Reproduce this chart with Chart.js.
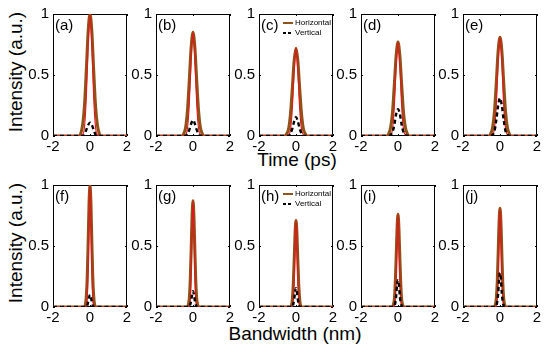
<!DOCTYPE html>
<html>
<head>
<meta charset="utf-8">
<script src="https://cdn.jsdelivr.net/npm/chart.js@4.4.0/dist/chart.umd.min.js"></script>
<style>
body { margin: 0; background: #fff; }
#fig { position: relative; width: 550px; height: 353px; overflow: hidden; font-family: "Liberation Sans", Arial, sans-serif; }
#fig canvas { position: absolute; }
.lbl { position: absolute; font-size: 19px; line-height: 19px; white-space: nowrap; color: #000; }
</style>
</head>
<body>
<div id="fig">
  <div class="lbl" style="left:15px; top:72px; transform: translate(-50%,-50%) rotate(-90deg);">Intensity (a.u.)</div>
  <div class="lbl" style="left:15px; top:243px; transform: translate(-50%,-50%) rotate(-90deg);">Intensity (a.u.)</div>
  <div class="lbl" style="left:297px; top:150px; transform: translateX(-50%);">Time (ps)</div>
  <div class="lbl" style="left:295px; top:324px; transform: translateX(-50%);">Bandwidth (nm)</div>
</div>
<script>
// x sample points (top row in ps, bottom row in nm)
const timeGrid = [-2, -0.6, -0.5, -0.4, -0.3, -0.2, -0.1, 0, 0.1, 0.2, 0.3, 0.4, 0.5, 0.6, 2];
const bandGrid = [-2, -0.3, -0.25, -0.2, -0.15, -0.1, -0.05, 0, 0.05, 0.1, 0.15, 0.2, 0.25, 0.3, 2];

// top row: time domain
const horizA = [0, 0, 0.02, 0.09, 0.25, 0.54, 0.86, 1.00, 0.86, 0.54, 0.25, 0.09, 0.02, 0, 0];
const redA   = [0, 0, 0, 0.01, 0.07, 0.31, 0.74, 1.00, 0.74, 0.31, 0.07, 0.01, 0, 0, 0];
const vertA  = [0, 0, 0, 0, 0.01, 0.05, 0.09, 0.11, 0.09, 0.05, 0.01, 0, 0, 0, 0];

const horizB = [0, 0, 0.02, 0.07, 0.21, 0.46, 0.73, 0.85, 0.73, 0.46, 0.21, 0.07, 0.02, 0, 0];
const redB   = [0, 0, 0, 0.01, 0.06, 0.26, 0.63, 0.85, 0.63, 0.26, 0.06, 0.01, 0, 0, 0];
const vertB  = [0, 0, 0, 0, 0.02, 0.05, 0.10, 0.13, 0.10, 0.05, 0.02, 0, 0, 0, 0];

const horizC = [0, 0, 0.02, 0.06, 0.18, 0.39, 0.62, 0.72, 0.62, 0.39, 0.18, 0.06, 0.02, 0, 0];
const redC   = [0, 0, 0, 0.01, 0.05, 0.22, 0.53, 0.72, 0.53, 0.22, 0.05, 0.01, 0, 0, 0];
const vertC  = [0, 0, 0, 0, 0.02, 0.06, 0.12, 0.155, 0.12, 0.06, 0.02, 0, 0, 0, 0];

const horizD = [0, 0, 0.02, 0.07, 0.19, 0.42, 0.66, 0.77, 0.66, 0.42, 0.19, 0.07, 0.02, 0, 0];
const redD   = [0, 0, 0, 0.01, 0.05, 0.24, 0.57, 0.77, 0.57, 0.24, 0.05, 0.01, 0, 0, 0];
const vertD  = [0, 0, 0, 0.01, 0.03, 0.09, 0.18, 0.22, 0.18, 0.09, 0.03, 0.01, 0, 0, 0];

const horizE = [0, 0, 0.02, 0.07, 0.20, 0.44, 0.70, 0.81, 0.70, 0.44, 0.20, 0.07, 0.02, 0, 0];
const redE   = [0, 0, 0, 0.01, 0.06, 0.25, 0.60, 0.81, 0.60, 0.25, 0.06, 0.01, 0, 0, 0];
const vertE  = [0, 0, 0, 0.01, 0.04, 0.13, 0.25, 0.31, 0.25, 0.13, 0.04, 0.01, 0, 0, 0];

// bottom row: spectral domain
const horizF = [0, 0, 0.02, 0.09, 0.25, 0.54, 0.86, 1.00, 0.86, 0.54, 0.25, 0.09, 0.02, 0, 0];
const redF   = [0, 0, 0, 0.01, 0.07, 0.31, 0.74, 1.00, 0.74, 0.31, 0.07, 0.01, 0, 0, 0];
const vertF  = [0, 0, 0, 0, 0.01, 0.04, 0.08, 0.10, 0.08, 0.04, 0.01, 0, 0, 0, 0];

const horizG = [0, 0, 0.02, 0.07, 0.22, 0.47, 0.75, 0.87, 0.75, 0.47, 0.22, 0.07, 0.02, 0, 0];
const redG   = [0, 0, 0, 0.01, 0.06, 0.27, 0.64, 0.87, 0.64, 0.27, 0.06, 0.01, 0, 0, 0];
const vertG  = [0, 0, 0, 0, 0.02, 0.05, 0.10, 0.13, 0.10, 0.05, 0.02, 0, 0, 0, 0];

const horizH = [0, 0, 0.01, 0.06, 0.18, 0.38, 0.61, 0.71, 0.61, 0.38, 0.18, 0.06, 0.01, 0, 0];
const redH   = [0, 0, 0, 0.01, 0.05, 0.22, 0.53, 0.71, 0.53, 0.22, 0.05, 0.01, 0, 0, 0];
const vertH  = [0, 0, 0, 0, 0.02, 0.06, 0.12, 0.155, 0.12, 0.06, 0.02, 0, 0, 0, 0];

const horizI = [0, 0, 0.02, 0.06, 0.19, 0.41, 0.65, 0.76, 0.65, 0.41, 0.19, 0.06, 0.02, 0, 0];
const redI   = [0, 0, 0, 0.01, 0.05, 0.24, 0.56, 0.76, 0.56, 0.24, 0.05, 0.01, 0, 0, 0];
const vertI  = [0, 0, 0, 0.01, 0.03, 0.09, 0.18, 0.22, 0.18, 0.09, 0.03, 0.01, 0, 0, 0];

const horizJ = [0, 0, 0.02, 0.07, 0.20, 0.44, 0.70, 0.81, 0.70, 0.44, 0.20, 0.07, 0.02, 0, 0];
const redJ   = [0, 0, 0, 0.01, 0.06, 0.25, 0.60, 0.81, 0.60, 0.25, 0.06, 0.01, 0, 0, 0];
const vertJ  = [0, 0, 0, 0.01, 0.04, 0.11, 0.22, 0.28, 0.22, 0.11, 0.04, 0.01, 0, 0, 0];

const xTicks = [-2, 0, 2];
const yTicks = [0, 0.5, 1];

const panels = [
    { tag: '(a)', x: timeGrid, h: horizA, r: redA, v: vertA },
    { tag: '(b)', x: timeGrid, h: horizB, r: redB, v: vertB },
    { tag: '(c)', x: timeGrid, h: horizC, r: redC, v: vertC, legend: true },
    { tag: '(d)', x: timeGrid, h: horizD, r: redD, v: vertD },
    { tag: '(e)', x: timeGrid, h: horizE, r: redE, v: vertE },
    { tag: '(f)', x: bandGrid, h: horizF, r: redF, v: vertF },
    { tag: '(g)', x: bandGrid, h: horizG, r: redG, v: vertG },
    { tag: '(h)', x: bandGrid, h: horizH, r: redH, v: vertH, legend: true },
    { tag: '(i)', x: bandGrid, h: horizI, r: redI, v: vertI },
    { tag: '(j)', x: bandGrid, h: horizJ, r: redJ, v: vertJ },
];

// plot-area placement (left of each column, top of each row)
const colLeft = [53, 156, 259, 361, 463];
const rowTop = [13, 184];
const PW = 74, PH = 123;
const PAD_L = 36, PAD_T = 12, PAD_R = 10, PAD_B = 22;

const BROWN = '#8f5318';
const RED = '#e3161b';
const FONT = "'Liberation Sans', Arial, sans-serif";

Chart.defaults.font.family = FONT;
Chart.defaults.color = '#000';

function pts(xs, ys) {
    return xs.map((x, i) => ({ x: x, y: ys[i] }));
}

// box + inward ticks, drawn under the curves like matlab does
const framePlugin = {
    id: 'frame',
    beforeDatasetsDraw(chart) {
        const { ctx, chartArea: a, scales } = chart;
        ctx.save();
        ctx.strokeStyle = '#000';
        ctx.lineWidth = 1;
        ctx.strokeRect(a.left + 0.5, a.top + 0.5, a.width - 1, a.height - 1);
        ctx.beginPath();
        xTicks.forEach(v => {
            const px = Math.round(scales.x.getPixelForValue(v)) + 0.5;
            ctx.moveTo(px, a.bottom); ctx.lineTo(px, a.bottom - 2);
            ctx.moveTo(px, a.top); ctx.lineTo(px, a.top + 2);
        });
        yTicks.forEach(v => {
            const py = Math.round(scales.y.getPixelForValue(v)) + 0.5;
            ctx.moveTo(a.left, py); ctx.lineTo(a.left + 2, py);
            ctx.moveTo(a.right, py); ctx.lineTo(a.right - 2, py);
        });
        ctx.stroke();
        ctx.restore();
    },
    afterDraw(chart, args, opts) {
        const { ctx, chartArea: a } = chart;
        ctx.save();
        ctx.fillStyle = '#000';
        ctx.font = '15px ' + FONT;
        ctx.textBaseline = 'top';
        ctx.fillText(opts.tag, a.left + 2, a.top + 4);
        if (opts.legend) {
            const ds = chart.data.datasets;
            const items = ['Horizontal', 'Vertical'].map(n => ds.find(d => d.label === n));
            ctx.font = '8px ' + FONT;
            ctx.textBaseline = 'middle';
            items.forEach((d, i) => {
                const y = a.top + 9 + i * 10;
                ctx.beginPath();
                ctx.strokeStyle = d.borderColor;
                ctx.lineWidth = 2;
                ctx.setLineDash(d.borderDash ? [3, 2] : []);
                ctx.moveTo(a.left + 24, y);
                ctx.lineTo(a.left + 34, y);
                ctx.stroke();
                ctx.setLineDash([]);
                ctx.fillText(d.label, a.left + 36, y);
            });
        }
        ctx.restore();
    }
};

const fig = document.getElementById('fig');

panels.forEach((p, i) => {
    const col = i % 5, row = Math.floor(i / 5);
    const canvas_el = document.createElement('canvas');
    canvas_el.width = PAD_L + PW + PAD_R;
    canvas_el.height = PAD_T + PH + PAD_B;
    canvas_el.style.left = (colLeft[col] - PAD_L) + 'px';
    canvas_el.style.top = (rowTop[row] - PAD_T) + 'px';
    fig.appendChild(canvas_el);

    new Chart(canvas_el, {
        type: 'line',
        data: {
            datasets: [
                { label: 'Vertical', data: pts(p.x, p.v), borderColor: '#000', borderWidth: 2.4, borderDash: [4, 3] },
                { label: '', data: pts(p.x, p.r), borderColor: RED, borderWidth: 1.1 },
                { label: 'Horizontal', data: pts(p.x, p.h), borderColor: BROWN, borderWidth: 3 }
            ]
        },
        options: {
            responsive: false,
            animation: false,
            devicePixelRatio: 1,
            events: [],
            layout: { padding: { left: 0, top: PAD_T, right: PAD_R, bottom: 0 } },
            elements: {
                point: { radius: 0 },
                line: { cubicInterpolationMode: 'monotone', fill: false }
            },
            scales: {
                x: {
                    type: 'linear', min: -2, max: 2,
                    ticks: { stepSize: 2, font: { size: 15 }, padding: 2, maxRotation: 0, autoSkip: false },
                    grid: { display: false, drawTicks: false },
                    border: { display: false },
                    afterFit: s => { s.height = PAD_B; }
                },
                y: {
                    min: 0, max: 1,
                    ticks: { stepSize: 0.5, font: { size: 15 }, padding: 4, callback: v => String(v) },
                    grid: { display: false, drawTicks: false },
                    border: { display: false },
                    afterFit: s => { s.width = PAD_L; }
                }
            },
            plugins: {
                legend: { display: false },
                tooltip: { enabled: false },
                frame: { tag: p.tag, legend: !!p.legend }
            }
        },
        plugins: [framePlugin]
    });
});
</script>
</body>
</html>
